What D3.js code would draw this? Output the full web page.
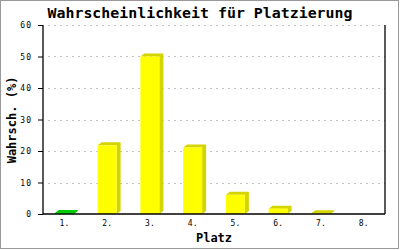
<!DOCTYPE html>
<html>
<head>
<meta charset="utf-8">
<script src="https://cdn.jsdelivr.net/npm/d3@7"></script>
<style>
  body { margin: 0; background: #fff; }
  text { font-family: "DejaVu Sans Mono", "Liberation Mono", monospace; }
</style>
</head>
<body>
<div id="chart"></div>
<script>
const width = 400;
const height = 250;

// data
const places = ["1.", "2.", "3.", "4.", "5.", "6.", "7.", "8."];
const probabilities = [0.3, 21.8, 50, 21.1, 6.1, 1.7, 0.2, 0];
const highlight = ["1."]; // grün dargestellt
const yTicks = [0, 10, 20, 30, 40, 50, 60];

const margin = { top: 25, right: 15, bottom: 36, left: 43 };
const depthX = 4, depthY = 3;

const svg = d3.select("#chart").append("svg")
  .attr("width", width)
  .attr("height", height);

// Rahmen
svg.append("rect")
  .attr("x", 0.5).attr("y", 0.5)
  .attr("width", 398).attr("height", 248)
  .attr("fill", "#fff")
  .attr("stroke", "#999");

const x = d3.scaleBand()
  .domain(places)
  .range([margin.left, width - margin.right])
  .paddingInner(0.556)
  .paddingOuter(0.278);

const y = d3.scaleLinear()
  .domain([0, 60])
  .range([height - margin.bottom, margin.top]);

// gridlines
svg.append("g")
  .selectAll("line")
  .data(yTicks.filter(d => d > 0))
  .join("line")
  .attr("x1", margin.left + 5)
  .attr("x2", width - margin.right)
  .attr("y1", d => Math.round(y(d)) + 0.5)
  .attr("y2", d => Math.round(y(d)) + 0.5)
  .attr("stroke", "#c4c4c4")
  .attr("stroke-dasharray", "2,4");

// bars
const bars = svg.append("g").selectAll("g")
  .data(places.map((p, i) => ({ place: p, value: probabilities[i] })).filter(d => d.value > 0))
  .join("g");

const front = d => highlight.includes(d.place) ? "#00ff00" : "#ffff00";
const shade = d => highlight.includes(d.place) ? "#00cc00" : "#d4d400";

bars.append("polygon")
  .attr("points", d => {
    const x0 = x(d.place), x1 = x0 + x.bandwidth();
    const y0 = y(d.value), yb = y(0);
    return [[x0, y0], [x0 + depthX, y0 - depthY], [x1 + depthX, y0 - depthY],
            [x1 + depthX, yb - depthY], [x1, yb], [x1, y0]].join(" ");
  })
  .attr("fill", shade);

bars.append("rect")
  .attr("x", d => x(d.place))
  .attr("y", d => y(d.value))
  .attr("width", x.bandwidth())
  .attr("height", d => y(0) - y(d.value))
  .attr("fill", front);

// axes
const yAxis = d3.axisLeft(y).tickValues(yTicks).tickSize(5).tickPadding(6);
const gy = svg.append("g")
  .attr("transform", `translate(${margin.left},0)`)
  .call(yAxis);
gy.select(".domain").remove();
gy.selectAll("line").attr("stroke", "#000");
gy.selectAll("text").style("font-size", "8px").style("letter-spacing", "1px").attr("fill", "#000");

const axisLine = svg.append("g").attr("stroke", "#000").attr("stroke-width", 1.3);
axisLine.append("line")
  .attr("x1", margin.left).attr("x2", margin.left)
  .attr("y1", margin.top).attr("y2", y(0));
axisLine.append("line")
  .attr("x1", width - margin.right).attr("x2", width - margin.right)
  .attr("y1", margin.top).attr("y2", y(0));
axisLine.append("line")
  .attr("x1", margin.left).attr("x2", width - margin.right)
  .attr("y1", y(0)).attr("y2", y(0));

const gx = svg.append("g")
  .attr("transform", `translate(0,${y(0)})`)
  .call(d3.axisBottom(x).tickSize(0).tickPadding(6));
gx.select(".domain").remove();
gx.selectAll("text").style("font-size", "8px").attr("fill", "#000");

// titles
svg.append("text")
  .attr("x", 200)
  .attr("y", 18)
  .attr("text-anchor", "middle")
  .attr("textLength", 305)
  .attr("lengthAdjust", "spacingAndGlyphs")
  .style("font-size", "14px")
  .style("font-weight", "bold")
  .text("Wahrscheinlichkeit für Platzierung");

svg.append("text")
  .attr("x", 214)
  .attr("y", 242)
  .attr("text-anchor", "middle")
  .style("font-size", "12px")
  .style("font-weight", "bold")
  .text("Platz");

svg.append("text")
  .attr("transform", "translate(16,120) rotate(-90)")
  .attr("text-anchor", "middle")
  .style("font-size", "12px")
  .style("font-weight", "bold")
  .text("Wahrsch. (%)");
</script>
</body>
</html>
